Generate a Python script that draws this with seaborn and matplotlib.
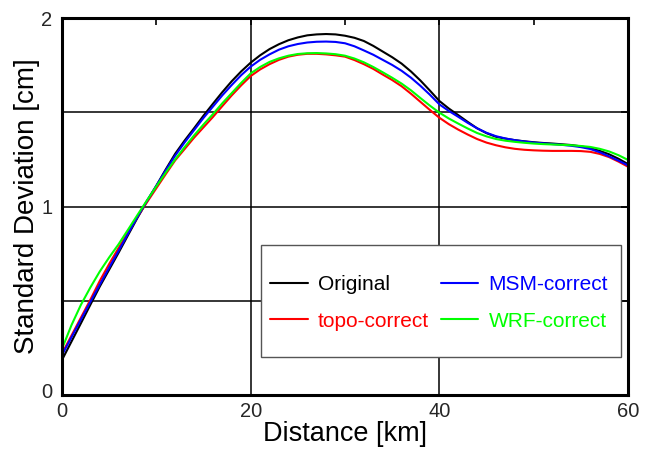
import numpy as np
import pandas as pd
import matplotlib
matplotlib.use("Agg")
import matplotlib.pyplot as plt
from matplotlib.ticker import MultipleLocator
from matplotlib.lines import Line2D
from matplotlib.patches import Rectangle
import matplotlib.transforms as mtransforms
import seaborn as sns

distance = list(range(0, 61))

original = [0.186, 0.283, 0.380, 0.478, 0.575, 0.665, 0.755, 0.848, 0.940, 1.027,
            1.110, 1.197, 1.280, 1.350, 1.415, 1.482, 1.545, 1.607, 1.665, 1.717,
            1.763, 1.802, 1.835, 1.861, 1.882, 1.897, 1.908, 1.913, 1.915, 1.913,
            1.906, 1.895, 1.878, 1.852, 1.822, 1.792, 1.758, 1.716, 1.668, 1.615,
            1.560, 1.520, 1.485, 1.449, 1.415, 1.389, 1.370, 1.360, 1.352, 1.346,
            1.341, 1.337, 1.334, 1.330, 1.326, 1.319, 1.310, 1.295, 1.277, 1.253,
            1.225]
msm_correct = [0.212, 0.306, 0.400, 0.493, 0.585, 0.676, 0.765, 0.856, 0.945, 1.030,
               1.110, 1.192, 1.270, 1.340, 1.405, 1.470, 1.530, 1.590, 1.645, 1.697,
               1.742, 1.778, 1.807, 1.832, 1.850, 1.862, 1.870, 1.874, 1.875, 1.873,
               1.866, 1.850, 1.828, 1.805, 1.778, 1.751, 1.720, 1.683, 1.640, 1.593,
               1.542, 1.507, 1.476, 1.444, 1.415, 1.391, 1.373, 1.361, 1.352, 1.345,
               1.339, 1.335, 1.331, 1.327, 1.322, 1.315, 1.305, 1.288, 1.266, 1.243,
               1.218]
topo_correct = [0.220, 0.315, 0.410, 0.505, 0.605, 0.695, 0.780, 0.862, 0.945, 1.022,
                1.097, 1.172, 1.245, 1.305, 1.365, 1.420, 1.475, 1.533, 1.590, 1.643,
                1.692, 1.727, 1.755, 1.778, 1.795, 1.805, 1.810, 1.810, 1.807, 1.802,
                1.795, 1.777, 1.755, 1.730, 1.700, 1.671, 1.638, 1.598, 1.555, 1.512,
                1.471, 1.437, 1.408, 1.382, 1.358, 1.339, 1.325, 1.314, 1.306, 1.301,
                1.298, 1.296, 1.295, 1.295, 1.295, 1.294, 1.290, 1.279, 1.262, 1.238,
                1.211]
wrf_correct = [0.245, 0.370, 0.478, 0.570, 0.655, 0.730, 0.800, 0.877, 0.955, 1.032,
               1.107, 1.180, 1.250, 1.315, 1.377, 1.435, 1.490, 1.548, 1.602, 1.656,
               1.706, 1.740, 1.767, 1.786, 1.800, 1.809, 1.813, 1.814, 1.812, 1.808,
               1.800, 1.785, 1.765, 1.740, 1.712, 1.683, 1.652, 1.616, 1.575, 1.535,
               1.498, 1.467, 1.440, 1.414, 1.390, 1.372, 1.358, 1.349, 1.343, 1.338,
               1.334, 1.331, 1.329, 1.327, 1.325, 1.321, 1.316, 1.306, 1.292, 1.272,
               1.247]

series_names = ["Original", "topo-correct", "MSM-correct", "WRF-correct"]
series_values = [original, topo_correct, msm_correct, wrf_correct]
series_colors = ["#000000", "#ff0000", "#0000ff", "#00ff00"]

x_ticks = [0, 20, 40, 60]
y_ticks = [0, 1, 2]

rows = []
for name, vals in zip(series_names, series_values):
    for d, v in zip(distance, vals):
        rows.append({"Distance": d, "SD": v, "Series": name})
df = pd.DataFrame(rows)

sns.set_theme(style="white")
plt.rcParams["font.family"] = ["Liberation Sans", "DejaVu Sans"]

fig = plt.figure(figsize=(6.53, 4.5), dpi=100)
ax = fig.add_axes([62 / 653, 55 / 450, 566 / 653, 377 / 450])

palette = dict(zip(series_names, series_colors))
sns.lineplot(data=df, x="Distance", y="SD", hue="Series", hue_order=series_names,
             palette=palette, linewidth=1.5, ax=ax, legend=False)

ax.set_xlim(0, 60)
ax.set_ylim(0, 2)
ax.set_xticks(x_ticks)
ax.set_yticks(y_ticks)
ax.xaxis.set_minor_locator(MultipleLocator(10))
ax.yaxis.set_minor_locator(MultipleLocator(0.5))

for v in [20, 40]:
    ax.axvline(v, color="black", linewidth=1.1, zorder=0.5)
for v in [0.5, 1.0, 1.5]:
    ax.axhline(v, color="black", linewidth=1.1, zorder=0.5)

for s in ax.spines.values():
    s.set_linewidth(2.2)
    s.set_color("black")
    s.set_visible(True)

ax.tick_params(which="both", direction="in", top=True, right=True,
               length=5, width=1.2, color="black", labelsize=14.5)
ax.tick_params(axis="x", which="major", pad=5)
ax.tick_params(axis="y", which="major", pad=7)

# lift the y "0" label slightly, as in the reference
ylab0 = ax.get_yticklabels()[0]
ylab0.set_transform(ylab0.get_transform() +
                    mtransforms.ScaledTranslation(0, 5 / 100, fig.dpi_scale_trans))

ax.set_xlabel("Distance [km]", fontsize=19.5, labelpad=0, color="black")
ax.set_ylabel("Standard Deviation [cm]", fontsize=20, labelpad=1, color="black")

handles = [Line2D([], [], color=c, linewidth=1.5) for c in series_colors]
leg = ax.legend(handles, series_names, ncol=2, loc="upper left",
                bbox_to_anchor=((270 - 62) / 566, (395 - 275) / 377), borderaxespad=0,
                fontsize=15, frameon=False, handlelength=1.8, handletextpad=0.5,
                columnspacing=0.55, borderpad=0, labelspacing=0.85,
                labelcolor="linecolor")
frame = Rectangle(((261 - 62) / 566, (395 - 357) / 377), 360 / 566, 112 / 377,
                  transform=ax.transAxes, facecolor="white", edgecolor="#555555",
                  linewidth=1.0, zorder=4)
ax.add_patch(frame)
leg.set_zorder(5)

fig.savefig("out.png", dpi=100)
